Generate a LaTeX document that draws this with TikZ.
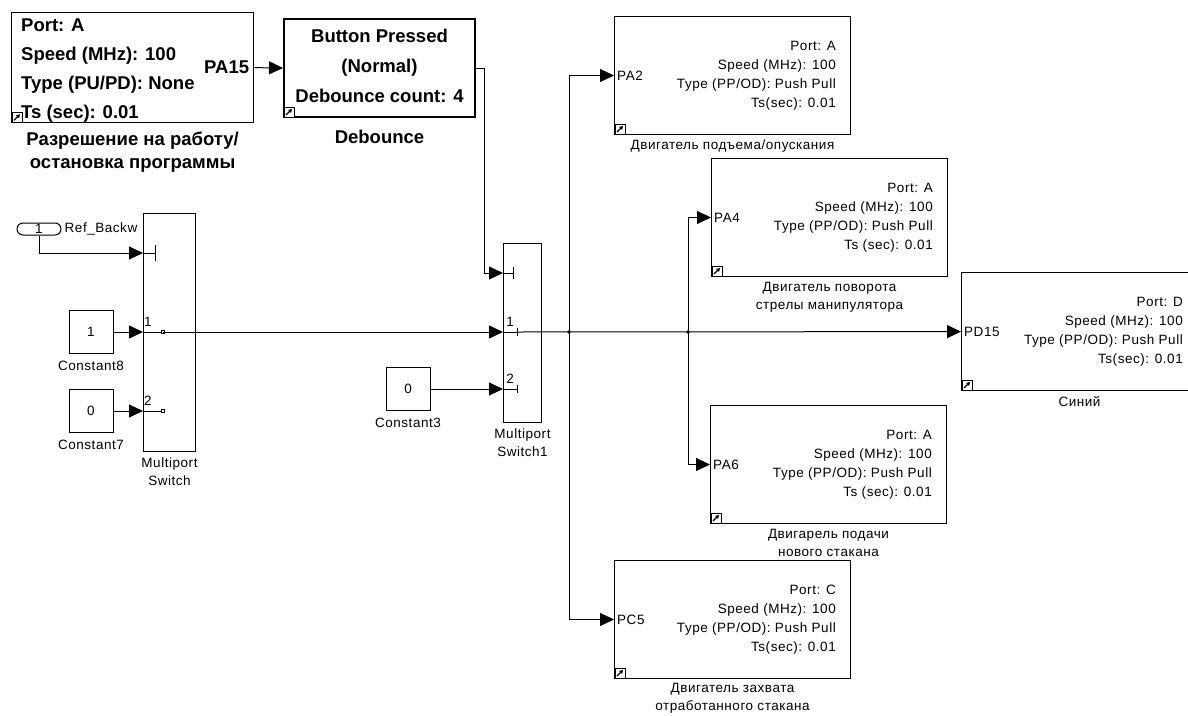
\documentclass[tikz,border=0pt]{standalone}
\usepackage{fontspec}
\setmainfont{Liberation Sans}
\newfontfamily\simfont[LetterSpace=4]{Liberation Sans}
\usetikzlibrary{arrows.meta,positioning}
\tikzset{
  blk/.style={draw,line width=1pt,inner sep=0pt,anchor=north west},
  gpio/.style={blk,minimum width=236pt,minimum height=118pt},
  cst/.style={draw,line width=1pt,inner sep=0pt,minimum width=44pt,minimum height=43pt,font=\simfont\fontsize{13.5}{19}\selectfont},
  sml/.style={inner sep=0pt,font=\simfont\fontsize{13.5}{19}\selectfont},
  blkname/.style={sml,anchor=north,align=center,font=\simfont\fontsize{13.5}{18}\selectfont},
  bld/.style={inner sep=0pt,font=\bfseries\fontsize{18.5}{29}\selectfont},
  sig/.style={-{Triangle[length=14pt,width=13pt]},line width=1pt},
  wire/.style={line width=1pt},
}
\newcommand\lnkicon[1]{%
  \draw[line width=0.8pt,fill=white] ([shift={(1pt,1pt)}]#1.south west) rectangle ++(10pt,10pt);
  \draw[line width=1.3pt,-{Triangle[length=3.5pt,width=4pt]}] ([shift={(3pt,3pt)}]#1.south west) -- ++(6pt,6pt);}

\begin{document}
\begin{tikzpicture}[x=1pt,y=-1pt]
\fill[white] (0,0) rectangle (1188,715);
\useasboundingbox (0,0) rectangle (1188,715);

\node[blk,line width=1.3pt,minimum width=242pt,minimum height=110pt] (enbl) at (11,12) {};
\node[bld,anchor=west,align=left] (enbl-t) at ([shift={(10pt,-3pt)}]enbl.west) {Port: A\\Speed (MHz): 100\\Type (PU/PD): None\\Ts (sec): 0.01};
\node[bld,anchor=east] (enbl-p) at ([xshift=-5pt]enbl.east) {PA15};
\node[bld,anchor=north,align=center,font=\bfseries\fontsize{18.5}{23}\selectfont] (enbl-l) at ([yshift=-8pt]enbl.south) {Разрешение на работу/\\остановка программы};
\lnkicon{enbl}

\node[blk,line width=2pt,minimum width=191pt,minimum height=98pt] (deb) at (283,18) {};
\node[bld,align=center,font=\bfseries\fontsize{18.5}{30}\selectfont] (deb-t) at ([yshift=2pt]deb.center) {Button Pressed\\(Normal)\\Debounce count: 4};
\node[bld,anchor=north] (deb-l) at ([yshift=-12pt]deb.south) {Debounce};
\lnkicon{deb}

\node[draw,line width=1pt,rounded corners=6pt,minimum width=44pt,minimum height=12pt,sml] (rb) at (39,229) {1};
\node[sml,anchor=west] (rb-l) at ([xshift=3pt]rb.east) {Ref\_Backw};

\node[cst] (c8) at (91,332) {1};
\node[sml,anchor=north] (c8-l) at ([yshift=-7pt]c8.south) {Constant8};
\node[cst] (c7) at (91,411) {0};
\node[sml,anchor=north] (c7-l) at ([yshift=-7pt]c7.south) {Constant7};
\node[cst] (c3) at (408,389) {0};
\node[sml,anchor=north] (c3-l) at ([yshift=-7pt]c3.south) {Constant3};

\node[blk,minimum width=52pt,minimum height=238pt] (msw) at (143,213) {};
\coordinate (msw-c) at (143,253);
\coordinate (msw-k) at (155,253);
\coordinate (msw-i1) at (143,332);
\coordinate (msw-o1) at (163,332);
\coordinate (msw-i2) at (143,411);
\coordinate (msw-o2) at (163,411);
\node[sml] (msw-n1) at (148,322) {1};
\node[sml] (msw-n2) at (148,401) {2};
\node[blkname] (msw-l) at ([yshift=-6pt]msw.south) {Multiport\\Switch};

\node[blk,minimum width=38pt,minimum height=179pt] (msw1) at (503,243) {};
\coordinate (msw1-c) at (503,273);
\coordinate (msw1-k) at (513,273);
\coordinate (msw1-i1) at (503,332);
\coordinate (msw1-o1) at (517,332);
\coordinate (msw1-i2) at (503,389);
\coordinate (msw1-o2) at (517,389);
\node[sml] (msw1-n1) at (510,322) {1};
\node[sml] (msw1-n2) at (510,379) {2};
\node[blkname] (msw1-l) at ([yshift=-6pt]msw1.south) {Multiport\\Switch1};

\node[gpio] (pa2) at (614,16) {};
\node[sml,anchor=east,align=right] (pa2-t) at ([xshift=-15pt]pa2.east) {Port: A\\Speed (MHz): 100\\Type (PP/OD): Push Pull\\Ts(sec): 0.01};
\node[sml,anchor=west] (pa2-p) at ([xshift=3pt]pa2.west) {PA2};
\node[blkname] (pa2-l) at ([yshift=-5pt]pa2.south) {Двигатель подъема/опускания};
\lnkicon{pa2}

\node[gpio] (pa4) at (711,158) {};
\node[sml,anchor=east,align=right] (pa4-t) at ([xshift=-15pt]pa4.east) {Port: A\\Speed (MHz): 100\\Type (PP/OD): Push Pull\\Ts (sec): 0.01};
\node[sml,anchor=west] (pa4-p) at ([xshift=3pt]pa4.west) {PA4};
\node[blkname] (pa4-l) at ([yshift=-5pt]pa4.south) {Двигатель поворота\\стрелы манипулятора};
\lnkicon{pa4}

\node[gpio] (pd15) at (961,272) {};
\node[sml,anchor=east,align=right] (pd15-t) at ([xshift=-15pt]pd15.east) {Port: D\\Speed (MHz): 100\\Type (PP/OD): Push Pull\\Ts(sec): 0.01};
\node[sml,anchor=west] (pd15-p) at ([xshift=3pt]pd15.west) {PD15};
\node[blkname] (pd15-l) at ([yshift=-5pt]pd15.south) {Синий};
\lnkicon{pd15}

\node[gpio] (pa6) at (710,405) {};
\node[sml,anchor=east,align=right] (pa6-t) at ([xshift=-15pt]pa6.east) {Port: A\\Speed (MHz): 100\\Type (PP/OD): Push Pull\\Ts (sec): 0.01};
\node[sml,anchor=west] (pa6-p) at ([xshift=3pt]pa6.west) {PA6};
\node[blkname] (pa6-l) at ([yshift=-5pt]pa6.south) {Двигарель подачи\\нового стакана};
\lnkicon{pa6}

\node[gpio] (pc5) at (614,560) {};
\node[sml,anchor=east,align=right] (pc5-t) at ([xshift=-15pt]pc5.east) {Port: C\\Speed (MHz): 100\\Type (PP/OD): Push Pull\\Ts(sec): 0.01};
\node[sml,anchor=west] (pc5-p) at ([xshift=3pt]pc5.west) {PC5};
\node[blkname] (pc5-l) at ([yshift=-4pt]pc5.south) {Двигатель захвата\\отработанного стакана};
\lnkicon{pc5}

\coordinate (j1) at (569,332);
\coordinate (j2) at (688,332);

\draw[sig] (enbl.east) -- (deb.west);
\draw[sig] (deb.east) -- ++(8pt,0pt) |- (msw1-c);
\draw[wire] (msw1-c) -- (msw1-k);
\draw[wire] ([yshift=6pt]msw1-k) -- ([yshift=-6pt]msw1-k);

\draw[sig] (rb.south) |- (msw-c);
\draw[wire] (msw-c) -- (msw-k);
\draw[wire] ([yshift=8pt]msw-k) -- ([yshift=-8pt]msw-k);
\draw[sig] (c8) -- (msw-i1);
\draw[wire] (msw-i1) -- (msw-o1);
\draw[sig] (c7) -- (msw-i2);
\draw[wire] (msw-i2) -- (msw-o2);
\draw[line width=0.8pt,fill=white] ([shift={(-1.5pt,-1.5pt)}]msw-o1) rectangle ++(3pt,3pt);
\draw[line width=0.8pt,fill=white] ([shift={(-1.5pt,-1.5pt)}]msw-o2) rectangle ++(3pt,3pt);

\draw[sig] (msw-o1) -- (msw1-i1);
\draw[wire] (msw1-i1) -- (msw1-o1);
\draw[wire] ([yshift=4pt]msw1-o1) -- ([yshift=-4pt]msw1-o1);
\draw[sig] (c3) -- (msw1-i2);
\draw[wire] (msw1-i2) -- (msw1-o2);
\draw[wire] ([yshift=4pt]msw1-o2) -- ([yshift=-4pt]msw1-o2);

\draw[sig] (msw1-o1) -- (pd15);
\draw[sig] (j1) |- (pa2);
\draw[sig] (j1) |- (pc5);
\draw[sig] (j2) |- (pa4);
\draw[sig] (j2) |- (pa6);
\fill (j1) circle (1.8pt);
\fill (j2) circle (1.8pt);
\end{tikzpicture}
\end{document}
